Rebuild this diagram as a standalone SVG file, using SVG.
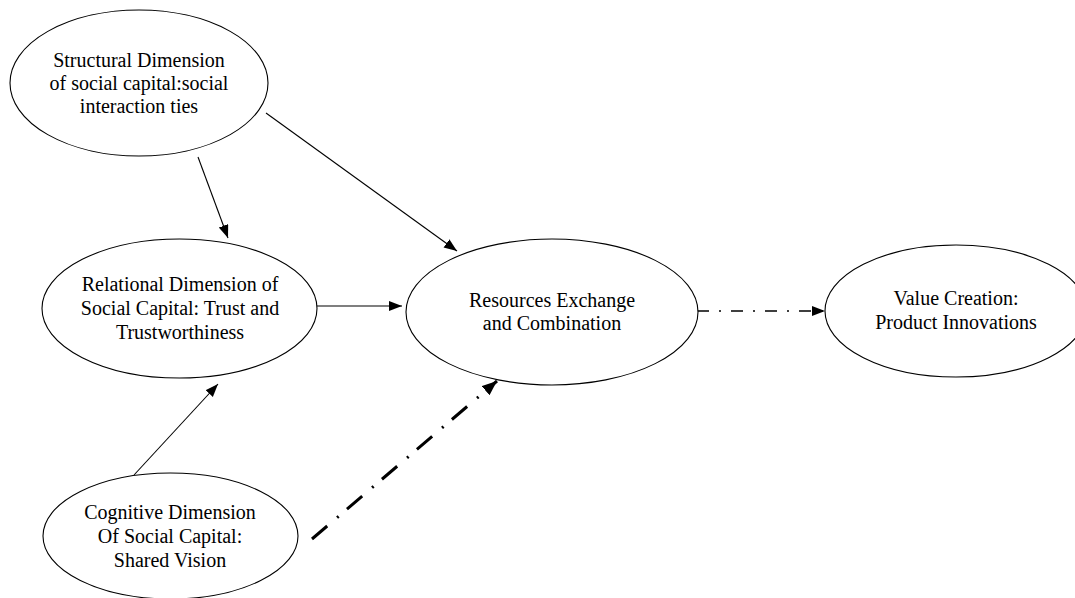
<svg xmlns="http://www.w3.org/2000/svg" width="1075" height="598" viewBox="0 0 1075 598">
  <style>
    .node ellipse { fill: #ffffff; stroke: #000000; stroke-width: 1.1; }
    .node text { font-family: "Liberation Serif", "Times New Roman", serif; font-size: 20px; fill: #000000; text-anchor: middle; }
    .edge { stroke: #000000; fill: none; }
    .thin { stroke-width: 1.1; }
    .dashdot { stroke-width: 1.4; stroke-dasharray: 12 10 2 10; }
    .thickdd { stroke-width: 3; stroke-dasharray: 20 13 2 11; }
  </style>
  <defs>
    <marker id="arrow" markerUnits="userSpaceOnUse" markerWidth="14" markerHeight="12" refX="13" refY="5" orient="auto">
      <path d="M0,0 L13,5 L0,10 z" fill="#000000"/>
    </marker>
    <marker id="arrowBig" markerUnits="userSpaceOnUse" markerWidth="16" markerHeight="14" refX="15" refY="6" orient="auto">
      <path d="M0,0 L15,6 L0,12 z" fill="#000000"/>
    </marker>
  </defs>
  <rect x="0" y="0" width="1075" height="598" fill="#ffffff"/>

  <g id="connectors">
    <line class="edge thin" x1="198" y1="157" x2="228" y2="238" marker-end="url(#arrow)"/>
    <line class="edge thin" x1="266" y1="113" x2="457" y2="251" marker-end="url(#arrow)"/>
    <line class="edge thin" x1="317" y1="306" x2="402" y2="306" marker-end="url(#arrow)"/>
    <line class="edge thin" x1="134" y1="475" x2="218" y2="384" marker-end="url(#arrow)"/>
    <line class="edge thickdd" x1="312" y1="539" x2="497" y2="381" marker-end="url(#arrowBig)"/>
    <line class="edge dashdot" x1="697" y1="311" x2="825" y2="311" marker-end="url(#arrow)"/>
  </g>

  <g id="structural" class="node">
    <ellipse cx="139" cy="83" rx="129" ry="73"/>
    <text x="139" y="67">Structural Dimension</text>
    <text x="139" y="90">of social capital:social</text>
    <text x="139" y="113">interaction ties</text>
  </g>

  <g id="relational" class="node">
    <ellipse cx="179.5" cy="308.5" rx="137.5" ry="69.5"/>
    <text x="180" y="291">Relational Dimension of</text>
    <text x="180" y="315">Social Capital: Trust and</text>
    <text x="180" y="339">Trustworthiness</text>
  </g>

  <g id="cognitive" class="node">
    <ellipse cx="170.5" cy="536" rx="127.5" ry="63"/>
    <text x="170" y="519">Cognitive Dimension</text>
    <text x="170" y="543">Of Social Capital:</text>
    <text x="170" y="567">Shared Vision</text>
  </g>

  <g id="resources" class="node">
    <ellipse cx="552" cy="312" rx="146" ry="73"/>
    <text x="552" y="307">Resources Exchange</text>
    <text x="552" y="330">and Combination</text>
  </g>

  <g id="value" class="node">
    <ellipse cx="956" cy="311" rx="131" ry="66"/>
    <text x="956" y="305">Value Creation:</text>
    <text x="956" y="329">Product Innovations</text>
  </g>
</svg>
